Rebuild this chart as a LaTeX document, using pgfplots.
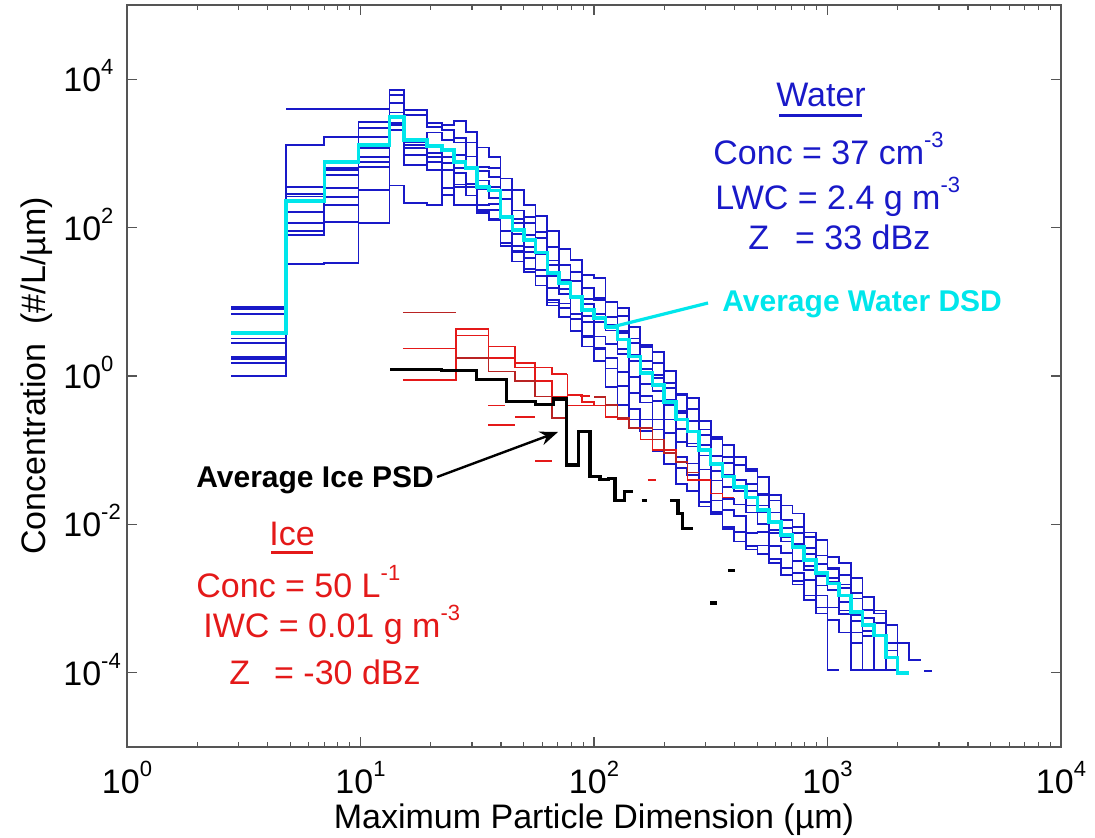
\documentclass[border=0pt]{standalone}
\usepackage{fontspec}
\setmainfont{Liberation Sans}
\usepackage{pgfplots}
\usepackage{pgfplotstable}
\pgfplotsset{compat=1.18}
\usetikzlibrary{arrows.meta}

\definecolor{wblue}{RGB}{25,25,200}
\definecolor{wcyan}{RGB}{0,230,235}
\definecolor{ired}{RGB}{228,25,25}
\definecolor{idred}{RGB}{185,35,35}
\definecolor{axgray}{RGB}{85,85,85}

\newcommand\sups[1]{\raisebox{8.5pt}{\fontsize{11}{11}\selectfont #1}}
\newcommand\bigtxt{\fontsize{17}{17}\selectfont}

% water DSDs: bin start (um), average (c) and individual spectra b1..b9 (#/L/um)
\pgfplotstableread{
x      c       b1      b2      b3      b4      b5      b6      b7      b8      b9
2.8    3.8     8.5     8.0     6.9     3.2     2.8     1.8     1.7     1.5     1.0
4.8    230     1290    355     282     263     162     115     89      79      32
7.0    760     1660    630     600     510     340     257     200     120     33
9.8    1290    2630    2190    1660    1170    890     760     660     320     115
13.3   3090    7080    4790    6170    3020    2570    2090    3550    2400    370
15.4   1510    3890    3310    1510    1290    1170    955     690     1410    215
19.3   1260    2570    2290    1910    1230    1020    890     760     600     200
22.4   1120    2400    2090    1510    1100    890     740     600     275     340
25.1   760     2700    1600    1400    950     630     540     350     380     200
28.2   630     1950    1400    910     620     620     390     270     350     200
31.6   355     1200    660     580     430     330     200     174     166     158
35.5   316     890     630     480     355     250     210     132     174     126
39.8   138     460     320     245     145     140     89      62      62      56
44.7   93      320     170     130     115     81      56      47      49      35
50.1   68      200     140     115     79      55      47      28      39      25
56.2   46      145     87      72      46      44      27      22      22      16.6
63.1   24.5    89      55      36      31      22      15.5    9.8     10.7    8.9
70.8   17.8    51      31      31      19.5    15      12.6    8.3     9.5     6.3
79.4   11.5    37      25      19      11.7    11.2    6.8     5.9     5.9     4.0
89.1   7.8     23      15.5    11      9.3     6.5     5.4     3.3     3.5     2.5
100    6.0     21      11.2    10.7    6.9     5.4     3.4     2.3     2.4     1.58
112    4.6     10      10      6.3     4.9     4.1     2.7     1.74    1.26    0.71
126    3.1     8.3     6.5     4.0     3.8     2.3     2.0     1.12    0.74    0.41
141    1.82    4.6     3.2     2.75    1.9     1.58    0.98    0.59    0.36    0.26
158    1.10    2.6     2.45    1.58    1.23    0.78    0.54    0.44    0.26    0.18
178    0.76    2.1     1.48    1.02    0.95    0.63    0.46    0.26    0.19    0.098
200    0.45    1.17    0.81    0.69    0.47    0.41    0.26    0.17    0.093   0.065
224    0.26    0.58    0.55    0.34    0.32    0.195   0.13    0.081   0.058   0.035
251    0.178   0.50    0.36    0.25    0.18    0.123   0.112   0.066   0.046   0.028
282    0.100   0.25    0.19    0.16    0.117   0.085   0.055   0.039   0.020   0.0174
316    0.065   0.15    0.14    0.085   0.083   0.052   0.039   0.021   0.0148  0.0138
355    0.044   0.117   0.081   0.068   0.047   0.032   0.022   0.0155  0.0093  0.0087
398    0.032   0.081   0.063   0.040   0.031   0.028   0.0186  0.0129  0.0079  0.0059
447    0.023   0.056   0.052   0.035   0.028   0.018   0.0145  0.0076  0.0046  0.0051
501    0.0155  0.043   0.026   0.025   0.018   0.0148  0.0102  0.0079  0.0052  0.0040
562    0.0107  0.025   0.021   0.0145  0.011   0.0085  0.0076  0.0051  0.0034  0.0030
631    0.0072  0.018   0.0115  0.0089  0.0091  0.0068  0.0059  0.0041  0.0021  0.0026
708    0.0050  0.014   0.0093  0.0076  0.0055  0.0049  0.0032  0.0022  0.00174 0.00155
794    0.0033  0.0078  0.0068  0.0048  0.0040  0.00275 0.0024  0.0018  0.0011  0.00095
891    0.0022  0.0062  0.0038  0.0029  0.0022  0.0020  0.0015  0.0011  0.00063 0.00076
1000   0.0016  0.0036  0.0025  0.0026  0.0019  0.00166 0.0013  0.00076 0.00011 0.00052
1122   0.0011  0.0030  0.0021  0.00155 0.0014  0.00091 0.00069 0.00062 0.00011 0.00035
1259   0.00066 0.0019  0.0012  0.0010  0.00035 0.00060 0.00050 0.00011 nan     0.00025
1413   0.00044 0.00105 0.00071 0.00055 0.00011 0.00037 0.00031 0.00011 nan     0.00011
1585   0.00032 0.00069 0.00063 0.00047 0.00011 0.00032 0.00011 nan     nan     0.00011
1778   0.00016 0.00044 0.00020 0.00025 nan     0.00011 0.00011 nan     nan     nan
1995   0.00010 0.00025 0.00020 0.00010 nan     0.00011 nan     nan     nan     nan
2239   0.00010 0.00015 nan     0.00010 nan     nan     nan     nan     nan     nan
2512   nan     0.00015 nan     nan     nan     nan     nan     nan     nan     nan
}\dsd

\begin{document}
\begin{tikzpicture}
\path[use as bounding box] (-63.5pt,-45.5pt) rectangle (484pt,373.5pt);
\begin{axis}[
  scale only axis, width=467pt, height=371pt,
  xmode=log, ymode=log,
  xmin=1, xmax=1e4, ymin=1e-5, ymax=1e5,
  xtick={1,10,100,1000,10000},
  xticklabels={10\sups{0},10\sups{1},10\sups{2},10\sups{3},10\sups{4}},
  minor xtick={2,3,4,5,6,7,8,9,20,30,40,50,60,70,80,90,200,300,400,500,600,700,800,900,2000,3000,4000,5000,6000,7000,8000,9000},
  ytick={1e-4,1e-2,1,1e2,1e4},
  yticklabels={10\sups{-4},10\sups{-2},10\sups{0},10\sups{2},10\sups{4}},
  yminorticks=false,
  ticklabel style={font=\bigtxt},
  xticklabel style={anchor=base, inner sep=0pt, yshift=-23pt},
  yticklabel style={anchor=base west, inner sep=0pt, xshift=-32pt, yshift=-6.25pt},
  tick style={axgray, line width=0.6pt},
  major tick length=5pt, minor tick length=2.5pt,
  axis line style={axgray, line width=0.75pt},
  unbounded coords=jump,
  every axis plot/.append style={const plot, line join=miter},
]
% individual water spectra
\addplot[wblue, line width=0.9pt] table[x=x, y=b1] {\dsd};
\addplot[wblue, line width=0.9pt] table[x=x, y=b2] {\dsd};
\addplot[wblue, line width=0.9pt] table[x=x, y=b3] {\dsd};
\addplot[wblue, line width=0.9pt] table[x=x, y=b4] {\dsd};
\addplot[wblue, line width=0.9pt] table[x=x, y=b5] {\dsd};
\addplot[wblue, line width=0.9pt] table[x=x, y=b6] {\dsd};
\addplot[wblue, line width=0.9pt] table[x=x, y=b7] {\dsd};
\addplot[wblue, line width=0.9pt] table[x=x, y=b8] {\dsd};
\addplot[wblue, line width=0.9pt] table[x=x, y=b9] {\dsd};
\addplot[wblue, line width=0.9pt] coordinates {(4.8,4000) (13.3,4000)};
\addplot[wblue, line width=0.9pt] coordinates {(2600,1.05e-4) (2800,1.05e-4)};

% individual ice spectra
\addplot[idred, line width=0.8pt] coordinates {(15.2,7.2) (25.7,7.2)};
\addplot[ired, line width=0.8pt] coordinates {(15.2,2.35) (25.7,4.3) (35.3,2.5) (46,1.5) (56,1.3) (66,1.05) (77,0.55) (87,0.55)};
\addplot[ired, line width=0.8pt] coordinates {(15.2,0.89) (25.7,3.5) (35.3,1.74) (46,1.3) (56,0.85) (66,0.53) (77,0.4) (96,0.4)};
\addplot[idred, line width=0.8pt] coordinates {(25.7,1.74) (35.3,1.15) (46,0.85) (56,0.53) (66,0.27) (77,0.27)};
\addplot[ired, line width=0.8pt] coordinates {(79,0.55) (89,0.45) (100,0.40) (112,0.28) (126,0.26) (141,0.20) (158,0.14) (178,0.10) (200,0.10) (224,0.069) (251,0.04) (282,0.04) (316,0.026) (355,0.023) (398,0.023)};
\addplot[idred, line width=0.8pt] coordinates {(100,0.52) (112,0.41) (126,0.27) (141,0.20) (158,0.20) (178,0.14) (200,0.091) (224,0.069) (251,0.05) (282,0.05)};
\addplot[ired, line width=0.8pt] coordinates {(35.3,0.40) (41.7,0.40)};
\addplot[ired, line width=0.8pt] coordinates {(35.3,0.22) (46,0.22)};
\addplot[ired, line width=0.8pt] coordinates {(46,0.28) (56,0.28)};
\addplot[ired, line width=0.8pt] coordinates {(56,0.071) (66,0.071)};
\addplot[ired, line width=0.8pt] coordinates {(66,1.07) (77,1.07)};
\addplot[ired, line width=0.8pt] coordinates {(87,0.54) (96,0.54)};
\addplot[ired, line width=0.8pt] coordinates {(96,0.40) (104,0.40)};
\addplot[ired, line width=0.8pt] coordinates {(170,0.04) (185,0.04)};

% average water DSD
\addplot[wcyan, line width=1.8pt] table[x=x, y=c] {\dsd};

% average ice PSD
\addplot[black, line width=1.6pt] coordinates {(13.4,1.23) (22.3,1.18) (31.4,0.90) (42.3,0.45) (56,0.41) (67.2,0.49) (76.2,0.063) (85.8,0.178) (96.2,0.044) (106,0.040) (115,0.042) (123,0.021) (135,0.028) (147,0.028)};
\addplot[black, line width=1.6pt] coordinates {(160,0.021) (168,0.021)};
\addplot[black, line width=1.6pt] coordinates {(212,0.021) (229,0.014) (240,0.0089) (266,0.0089)};
\addplot[black, line width=1.6pt] coordinates {(375,0.0024) (402,0.0024)};
\addplot[black, line width=1.6pt] coordinates {(314,8.7e-4) (337,8.7e-4)};
\end{axis}

% axis titles
\node[anchor=base, font=\bigtxt] at (233.5pt,-41pt) {Maximum Particle Dimension (µm)};
\node[rotate=90, anchor=base, font=\bigtxt] at (-41pt,185.5pt) {Concentration\ \ (\#/L/µm)};

% water annotation
\node[anchor=base, inner sep=0pt, font=\bigtxt, text=wblue] at (347pt,320pt) {Water};
\draw[wblue, line width=1.5pt] (326pt,315.5pt) -- (367.5pt,315.5pt);
\node[anchor=base west, inner sep=0pt, font=\bigtxt, text=wblue] at (293pt,291pt) {Conc = 37 cm\sups{-3}};
\node[anchor=base west, inner sep=0pt, font=\bigtxt, text=wblue] at (294pt,268.5pt) {LWC = 2.4 g m\sups{-3}};
\node[anchor=base west, inner sep=0pt, font=\bigtxt, text=wblue] at (310.5pt,248.5pt) {Z\hspace{13pt}= 33 dBz};
\draw[wcyan, line width=1.6pt] (242.5pt,210pt) -- (290.5pt,222pt);
\node[anchor=base west, inner sep=0pt, font=\fontsize{15}{15}\selectfont\bfseries, text=wcyan] at (297.5pt,217.5pt) {Average Water DSD};

% ice annotation
\node[anchor=base west, inner sep=0pt, font=\fontsize{15}{15}\selectfont\bfseries] at (34.5pt,129.5pt) {Average Ice PSD};
\draw[black, line width=1.2pt, -{Stealth[length=9pt, width=7pt]}] (155pt,135pt) -- (215.5pt,157.5pt);
\node[anchor=base, inner sep=0pt, font=\bigtxt, text=ired] at (82.5pt,100.5pt) {Ice};
\draw[ired, line width=1.5pt] (72pt,97pt) -- (93pt,97pt);
\node[anchor=base west, inner sep=0pt, font=\bigtxt, text=ired] at (34.5pt,74.5pt) {Conc = 50 L\sups{-1}};
\node[anchor=base west, inner sep=0pt, font=\bigtxt, text=ired] at (38pt,54.5pt) {IWC = 0.01 g m\sups{-3}};
\node[anchor=base west, inner sep=0pt, font=\bigtxt, text=ired] at (51pt,31pt) {Z\hspace{12pt}= -30 dBz};
\end{tikzpicture}
\end{document}
